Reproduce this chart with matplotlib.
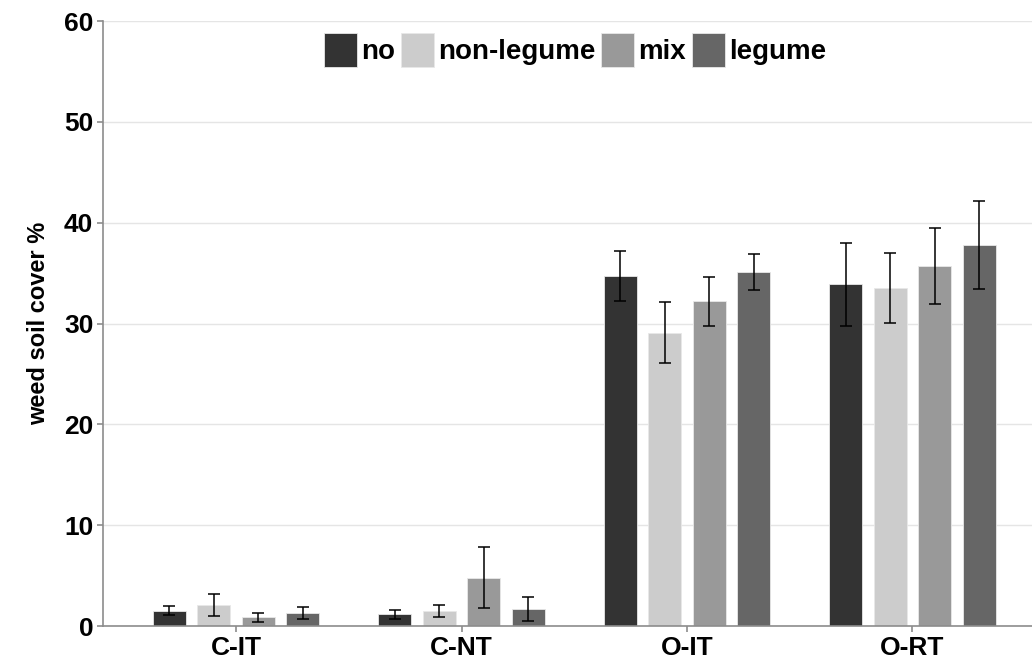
import numpy as np
import matplotlib
matplotlib.use('Agg')
import matplotlib.pyplot as plt

groups = ['C-IT', 'C-NT', 'O-IT', 'O-RT']
treatments = ['no', 'non-legume', 'mix', 'legume']
colors = ['#333333', '#cccccc', '#999999', '#666666']

# mean weed soil cover per group, one list per treatment
no_mean = [1.5, 1.15, 34.7, 33.9]
nonleg_mean = [2.1, 1.5, 29.1, 33.5]
mix_mean = [0.85, 4.8, 32.2, 35.7]
leg_mean = [1.3, 1.7, 35.1, 37.8]

# error (half-width of error bars)
no_err = [0.45, 0.45, 2.5, 4.1]
nonleg_err = [1.1, 0.6, 3.0, 3.45]
mix_err = [0.45, 3.0, 2.4, 3.8]
leg_err = [0.6, 1.2, 1.8, 4.4]

means = [no_mean, nonleg_mean, mix_mean, leg_mean]
errs = [no_err, nonleg_err, mix_err, leg_err]

plt.rcParams['font.family'] = ['Liberation Sans', 'DejaVu Sans']
plt.rcParams['font.weight'] = 'bold'

fig = plt.figure(figsize=(10.32, 6.64), dpi=100)
ax = fig.add_axes([0.0998, 0.0572, 0.9002, 0.9111])

x = np.arange(len(groups))
step = 0.197
width = 0.146
for i in range(4):
    pos = x + (i - 1.5) * step
    ax.bar(pos, means[i], width, color=colors[i], edgecolor='#e8e8e8',
           linewidth=0.6, label=treatments[i], zorder=2)
    ax.errorbar(pos, means[i], yerr=errs[i], fmt='none', ecolor='black',
                elinewidth=1.1, capsize=4, capthick=1.1, zorder=3)

ax.set_xlim(-0.59, 3.53)
ax.set_ylim(0, 60)
ax.set_yticks([0, 10, 20, 30, 40, 50, 60])
ax.set_xticks(x)
ax.set_xticklabels(groups)
ax.yaxis.grid(True, color='#e5e5e5', linewidth=1.0, zorder=0)
ax.set_axisbelow(True)

for s in ['top', 'right']:
    ax.spines[s].set_visible(False)
for s in ['left', 'bottom']:
    ax.spines[s].set_color('#8c8c8c')
    ax.spines[s].set_linewidth(1.2)

ax.tick_params(axis='both', colors='#8c8c8c', length=4, width=1.2,
               labelsize=19, labelcolor='black', pad=3)
for lab in ax.get_xticklabels() + ax.get_yticklabels():
    lab.set_fontweight('bold')

ax.set_ylabel('weed soil cover %', fontsize=17, fontweight='bold', labelpad=10)

leg = ax.legend(loc='upper center', bbox_to_anchor=(0.508, 0.998), ncol=4,
                frameon=False, fontsize=20, handlelength=1.2, handleheight=1.5,
                handletextpad=0.15, columnspacing=0.2, borderaxespad=0)
for t in leg.get_texts():
    t.set_fontweight('bold')

fig.savefig('out.png', dpi=100)
